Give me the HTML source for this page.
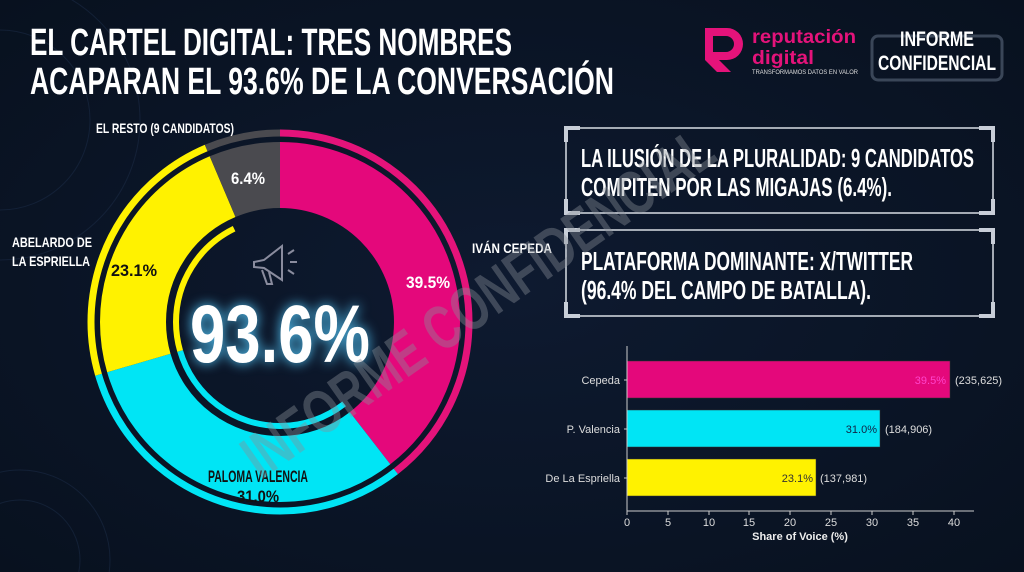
<!DOCTYPE html>
<html><head><meta charset="utf-8"><style>
html,body{margin:0;padding:0;background:#0a1426;width:1024px;height:572px;overflow:hidden;}
svg{display:block}
text{font-family:"Liberation Sans",sans-serif;}
</style></head><body>
<svg width="1024" height="572" viewBox="0 0 1024 572" xmlns="http://www.w3.org/2000/svg">
<defs>
<radialGradient id="bg" cx="50%" cy="50%" r="70%"><stop offset="0" stop-color="#0e1a30"/><stop offset="1" stop-color="#08111f"/></radialGradient>
</defs>
<rect width="1024" height="572" fill="url(#bg)"/>
<g stroke="#1a2a44" stroke-width="1" fill="none" opacity="0.6">
<circle cx="0" cy="120" r="90"/><circle cx="0" cy="120" r="140"/>
<circle cx="20" cy="560" r="90"/><circle cx="20" cy="560" r="60"/>
</g>
<text x="30" y="55" font-size="38" font-weight="bold" fill="#fff" textLength="482" lengthAdjust="spacingAndGlyphs">EL CARTEL DIGITAL: TRES NOMBRES</text>
<text x="30" y="94" font-size="38" font-weight="bold" fill="#fff" textLength="584" lengthAdjust="spacingAndGlyphs">ACAPARAN EL 93.6% DE LA CONVERSACIÓN</text>
<g fill="#e4137a">
<path d="M705 28 h22 a16 16 0 0 1 0 32 h-8 l12 12 h-14 l-12 -12 z M713 36 v16 h13 a8 8 0 0 0 0 -16 z"/>
</g>
<text x="752" y="43" font-size="19" font-weight="bold" fill="#e4137a" textLength="104" lengthAdjust="spacingAndGlyphs">reputación</text>
<text x="752" y="64" font-size="19" font-weight="bold" fill="#e4137a" textLength="62" lengthAdjust="spacingAndGlyphs">digital</text>
<text x="752" y="74" font-size="6" fill="#ddd" textLength="106" lengthAdjust="spacingAndGlyphs">TRANSFORMAMOS DATOS EN VALOR</text>
<rect x="872" y="36" width="130" height="44" rx="6" fill="none" stroke="#3a4658" stroke-width="3"/>
<text x="937" y="46" font-size="21" font-weight="bold" fill="#fff" text-anchor="middle" textLength="74" lengthAdjust="spacingAndGlyphs">INFORME</text>
<text x="937" y="70" font-size="21" font-weight="bold" fill="#fff" text-anchor="middle" textLength="118" lengthAdjust="spacingAndGlyphs">CONFIDENCIAL</text>
<g fill="none">
<circle cx="280" cy="322" r="189" stroke="#e4137a" stroke-width="7" pathLength="360" stroke-dasharray="142.2 217.8" transform="rotate(-90 280 322)"/>
<circle cx="280" cy="322" r="189" stroke="#00e5f5" stroke-width="7" pathLength="360" stroke-dasharray="0 142.2 111.6 106.2" transform="rotate(-90 280 322)"/>
<circle cx="280" cy="322" r="189" stroke="#fff200" stroke-width="7" pathLength="360" stroke-dasharray="0 253.8 83.2 23" transform="rotate(-90 280 322)"/>
<circle cx="280" cy="322" r="189" stroke="#4a4a4f" stroke-width="7" pathLength="360" stroke-dasharray="0 337 23 0" transform="rotate(-90 280 322)"/>
<circle cx="280" cy="322" r="147" stroke="#e4087b" stroke-width="66" pathLength="360" stroke-dasharray="142.2 217.8" transform="rotate(-90 280 322)"/>
<circle cx="280" cy="322" r="147" stroke="#00e5f5" stroke-width="66" pathLength="360" stroke-dasharray="0 142.2 111.6 106.2" transform="rotate(-90 280 322)"/>
<circle cx="280" cy="322" r="147" stroke="#fff200" stroke-width="66" pathLength="360" stroke-dasharray="0 253.8 83.2 23" transform="rotate(-90 280 322)"/>
<circle cx="280" cy="322" r="147" stroke="#4a4a4f" stroke-width="66" pathLength="360" stroke-dasharray="0 337 23 0" transform="rotate(-90 280 322)"/>
<circle cx="280" cy="322" r="104" stroke="#00e5f5" stroke-width="6" pathLength="360" stroke-dasharray="0 142 112 106" transform="rotate(-90 280 322)"/>
<circle cx="280" cy="322" r="104" stroke="#fff200" stroke-width="6" pathLength="360" stroke-dasharray="0 254 80 26" transform="rotate(-90 280 322)"/>
</g>
<text x="248" y="184" font-size="17" font-weight="bold" fill="#fff" text-anchor="middle" textLength="34" lengthAdjust="spacingAndGlyphs">6.4%</text>
<text x="134" y="276" font-size="17" font-weight="bold" fill="#111" text-anchor="middle" textLength="46" lengthAdjust="spacingAndGlyphs">23.1%</text>
<text x="428" y="288" font-size="17" font-weight="bold" fill="#fff" text-anchor="middle" textLength="44" lengthAdjust="spacingAndGlyphs">39.5%</text>
<text x="258" y="482" font-size="17" font-weight="bold" fill="#111" text-anchor="middle" textLength="100" lengthAdjust="spacingAndGlyphs">PALOMA VALENCIA</text>
<text x="258" y="502" font-size="17" font-weight="bold" fill="#111" text-anchor="middle" textLength="42" lengthAdjust="spacingAndGlyphs">31.0%</text>
<text x="96" y="133" font-size="14" font-weight="bold" fill="#fff" textLength="138" lengthAdjust="spacingAndGlyphs">EL RESTO (9 CANDIDATOS)</text>
<text x="12" y="247" font-size="14" font-weight="bold" fill="#fff" textLength="80" lengthAdjust="spacingAndGlyphs">ABELARDO DE</text>
<text x="12" y="266" font-size="14" font-weight="bold" fill="#fff" textLength="78" lengthAdjust="spacingAndGlyphs">LA ESPRIELLA</text>
<text x="472" y="253" font-size="14" font-weight="bold" fill="#fff" textLength="80" lengthAdjust="spacingAndGlyphs">IVÁN CEPEDA</text>
<g stroke="#aab" stroke-width="2" fill="none" opacity="0.8">
<path d="M254 262 l10 -2 l18 -14 v34 l-18 -12 l-10 -1 z"/>
<path d="M262 270 l5 14 h5 l-3 -12"/>
<path d="M288 254 l6 -4 M290 262 h7 M288 270 l6 4"/>
</g>
<text x="280" y="362" font-size="82" font-weight="bold" fill="#fff" text-anchor="middle" textLength="180" lengthAdjust="spacingAndGlyphs" style="filter:drop-shadow(0 0 6px #5cf)">93.6%</text>
<g fill="none" stroke="#d8dde4" stroke-width="1.5">
<rect x="566" y="128" width="427" height="85"/>
<rect x="566" y="230" width="427" height="86"/>
</g>
<g fill="none" stroke="#c8ced8" stroke-width="4">
<path d="M566 142 v-14 h14 M979 128 h14 v14 M566 199 v14 h14 M979 213 h14 v-14"/>
<path d="M566 244 v-14 h14 M979 230 h14 v14 M566 302 v14 h14 M979 316 h14 v-14"/>
</g>
<text x="581" y="167" font-size="26" font-weight="bold" fill="#fff" textLength="393" lengthAdjust="spacingAndGlyphs">LA ILUSIÓN DE LA PLURALIDAD: 9 CANDIDATOS</text>
<text x="581" y="196" font-size="26" font-weight="bold" fill="#fff" textLength="311" lengthAdjust="spacingAndGlyphs">COMPITEN POR LAS MIGAJAS (6.4%).</text>
<text x="581" y="270" font-size="26" font-weight="bold" fill="#fff" textLength="332" lengthAdjust="spacingAndGlyphs">PLATAFORMA DOMINANTE: X/TWITTER</text>
<text x="581" y="299" font-size="26" font-weight="bold" fill="#fff" textLength="290" lengthAdjust="spacingAndGlyphs">(96.4% DEL CAMPO DE BATALLA).</text>
<text x="490" y="320" font-size="62" font-weight="bold" fill="#8a9098" opacity="0.4" text-anchor="middle" transform="rotate(-35 490 320)" textLength="560" lengthAdjust="spacingAndGlyphs">INFORME CONFIDENCIAL</text>
<g font-size="11" fill="#ddd">
<rect x="627" y="361" width="323" height="37" fill="#e4087b" stroke="#333" stroke-width="0.5"/>
<rect x="627" y="410" width="253" height="37" fill="#00e5f5" stroke="#333" stroke-width="0.5"/>
<rect x="627" y="459" width="189" height="37" fill="#fff200" stroke="#333" stroke-width="0.5"/>
<line x1="627" y1="346" x2="627" y2="511" stroke="#ccc" stroke-width="1"/>
<line x1="627" y1="511" x2="974" y2="511" stroke="#ccc" stroke-width="1"/>
<text x="946" y="384" text-anchor="end" fill="#f4c">39.5%</text>
<text x="955" y="384" fill="#ddd">(235,625)</text>
<text x="877" y="433" text-anchor="end" fill="#124">31.0%</text>
<text x="885" y="433" fill="#ddd">(184,906)</text>
<text x="813" y="482" text-anchor="end" fill="#333">23.1%</text>
<text x="820" y="482" fill="#ddd">(137,981)</text>
<text x="620" y="384" text-anchor="end">Cepeda</text>
<text x="620" y="433" text-anchor="end">P. Valencia</text>
<text x="620" y="482" text-anchor="end">De La Espriella</text>
<g stroke="#ccc"><line x1="624" y1="380" x2="627" y2="380"/><line x1="624" y1="429" x2="627" y2="429"/><line x1="624" y1="478" x2="627" y2="478"/>
<line x1="627" y1="511" x2="627" y2="515"/><line x1="668" y1="511" x2="668" y2="515"/><line x1="709" y1="511" x2="709" y2="515"/><line x1="749" y1="511" x2="749" y2="515"/><line x1="790" y1="511" x2="790" y2="515"/><line x1="831" y1="511" x2="831" y2="515"/><line x1="872" y1="511" x2="872" y2="515"/><line x1="913" y1="511" x2="913" y2="515"/><line x1="954" y1="511" x2="954" y2="515"/></g>
<g text-anchor="middle"><text x="627" y="526">0</text><text x="668" y="526">5</text><text x="709" y="526">10</text><text x="749" y="526">15</text><text x="790" y="526">20</text><text x="831" y="526">25</text><text x="872" y="526">30</text><text x="913" y="526">35</text><text x="954" y="526">40</text></g>
<text x="800" y="540" text-anchor="middle" font-weight="bold" fill="#eee">Share of Voice (%)</text>
</g>
</svg>
</body></html>
